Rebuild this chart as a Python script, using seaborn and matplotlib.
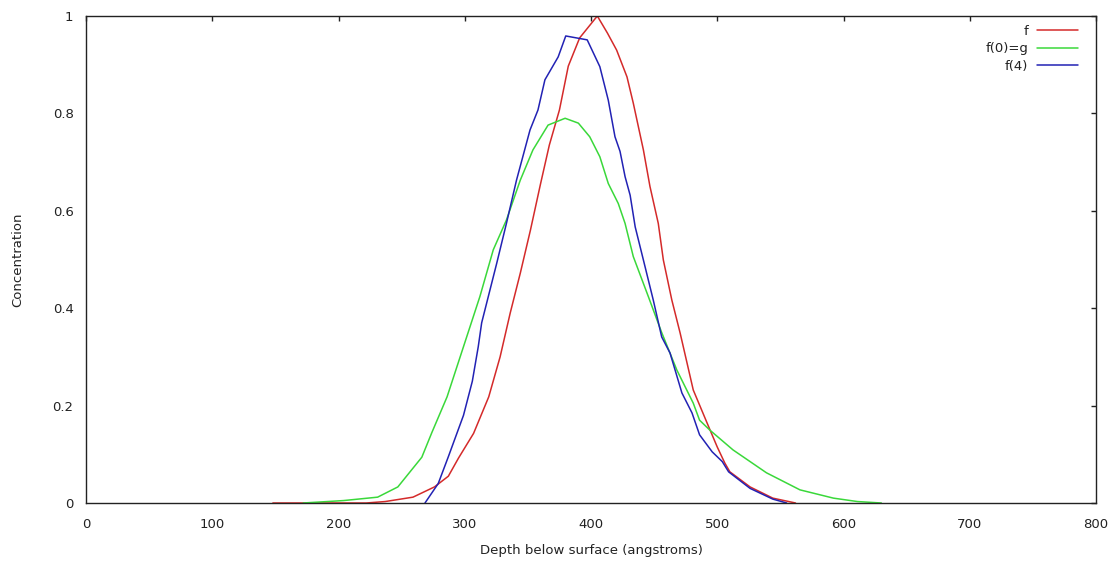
import numpy as np
import pandas as pd
import matplotlib
matplotlib.use("Agg")
import matplotlib.pyplot as plt
import seaborn as sns

# --- data ---
f_x = [148, 172, 200, 222, 237, 259, 276, 287, 295, 307, 319, 328, 336, 344, 352,
       360, 367, 375, 382, 391, 405, 413, 420.3, 428.5, 433.5, 441.5, 446.7, 453.3,
       457.3, 464, 470.6, 481, 492, 500, 506, 510, 526, 544, 562]
f_y = [0, 0, 0, 0, 0.003, 0.012, 0.033, 0.055, 0.092, 0.143, 0.218, 0.30, 0.39, 0.472, 0.56,
       0.655, 0.735, 0.807, 0.897, 0.955, 1.0, 0.965, 0.93, 0.875, 0.821, 0.725, 0.65, 0.574,
       0.499, 0.417, 0.349, 0.232, 0.164, 0.115, 0.082, 0.064, 0.033, 0.01, 0]

g_x = [172, 204, 231, 247, 266, 274, 286, 299, 312, 322.6, 333, 344, 354, 366,
       379.5, 390, 399, 407, 413.7, 421.6, 427, 433.5, 445.4, 456, 468, 481, 486, 494, 512.5,
       539, 565.5, 592, 611, 630]
g_y = [0, 0.005, 0.012, 0.033, 0.094, 0.145, 0.218, 0.321, 0.424, 0.52, 0.581, 0.663, 0.725, 0.776,
       0.79, 0.78, 0.752, 0.711, 0.656, 0.615, 0.574, 0.506, 0.424, 0.35, 0.273, 0.205, 0.17, 0.15, 0.109,
       0.062, 0.027, 0.01, 0.003, 0]

f4_x = [268.5, 279, 287, 299, 306, 310.7, 313.4, 325.3, 333, 341, 351.7, 358, 363.5, 374, 380,
        397, 407, 413.7, 419, 423, 427, 431, 435, 441.5, 449.3, 456, 462.6, 472, 480, 486,
        496, 504, 509, 526, 544, 555]
f4_y = [0, 0.04, 0.095, 0.18, 0.25, 0.321, 0.37, 0.492, 0.574, 0.663, 0.766, 0.807, 0.869, 0.916, 0.959,
        0.951, 0.896, 0.827, 0.752, 0.722, 0.67, 0.632, 0.567, 0.499, 0.417, 0.341, 0.308, 0.226, 0.185, 0.14,
        0.105, 0.085, 0.064, 0.03, 0.008, 0]

series_names = ["f", "f(0)=g", "f(4)"]
colors = ["#d42a2a", "#3ad83a", "#2222b4"]

x_ticks = [0, 100, 200, 300, 400, 500, 600, 700, 800]
y_ticks = [0, 0.2, 0.4, 0.6, 0.8, 1]
y_tick_labels = ["0", "0.2", "0.4", "0.6", "0.8", "1"]

df = pd.concat([
    pd.DataFrame({"x": f_x, "y": f_y, "s": series_names[0]}),
    pd.DataFrame({"x": g_x, "y": g_y, "s": series_names[1]}),
    pd.DataFrame({"x": f4_x, "y": f4_y, "s": series_names[2]}),
], ignore_index=True)

sns.set_style("white")
plt.rcParams["font.family"] = ["DejaVu Sans"]

fig = plt.figure(figsize=(11.17, 5.73), dpi=100)
ax = fig.add_axes([86 / 1117, 1 - 503 / 573, (1096 - 86) / 1117, (503 - 16) / 573])

sns.lineplot(data=df, x="x", y="y", hue="s", hue_order=series_names,
             palette=dict(zip(series_names, colors)), sort=False,
             estimator=None, linewidth=1.1, ax=ax)

ax.set_xlim(0, 800)
ax.set_ylim(0, 1)
ax.set_xticks(x_ticks)
ax.set_xticklabels([str(t) for t in x_ticks])
ax.set_yticks(y_ticks)
ax.set_yticklabels(y_tick_labels)
ax.tick_params(direction="in", top=True, right=True, length=3.5, width=1,
               labelsize=9.5, colors="#222222")
ax.tick_params(axis="x", pad=11)
ax.tick_params(axis="y", pad=9)
for sp in ax.spines.values():
    sp.set_visible(True)
    sp.set_color("#222222")
    sp.set_linewidth(1)

ax.set_xlabel("Depth below surface (angstroms)", fontsize=9.5, color="#222222", labelpad=9)
ax.set_ylabel("Concentration", fontsize=9.5, color="#222222", labelpad=20)

leg = ax.legend(loc="upper right", frameon=False, markerfirst=False, fontsize=9.5,
                handlelength=3.1, handletextpad=0.7, labelspacing=0.35,
                bbox_to_anchor=(0.993, 1.004), borderaxespad=0.4)
for t in leg.get_texts():
    t.set_ha("right")
    t.set_color("#222222")
for lh in leg.get_lines():
    lh.set_linewidth(1.1)

fig.savefig("out.png", dpi=100, facecolor="white")
